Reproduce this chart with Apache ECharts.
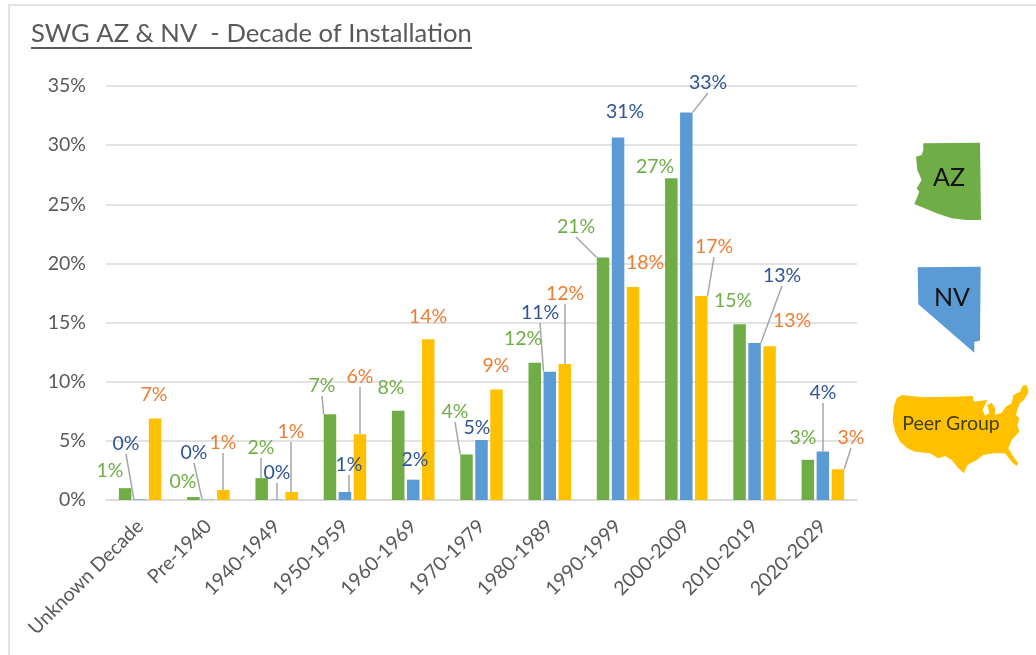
<!DOCTYPE html>
<html>
<head>
<meta charset="utf-8">
<style>
html, body { margin: 0; padding: 0; background: #fff; }
#main { width: 1036px; height: 655px; }
</style>
<script src="https://cdn.jsdelivr.net/npm/echarts@6/dist/echarts.min.js"></script>
</head>
<body>
<div id="main"></div>
<script>
var decades = ['Unknown Decade', 'Pre-1940', '1940-1949', '1950-1959', '1960-1969', '1970-1979', '1980-1989', '1990-1999', '2000-2009', '2010-2019', '2020-2029'];
var azValues = [1.0, 0.25, 1.85, 7.25, 7.55, 3.85, 11.6, 20.5, 27.2, 14.85, 3.4];
var nvValues = [0.05, 0.03, 0.03, 0.68, 1.72, 5.07, 10.85, 30.65, 32.77, 13.27, 4.1];
var peerValues = [6.9, 0.85, 0.68, 5.55, 13.6, 9.35, 11.5, 18, 17.25, 13, 2.6];
var yTicks = { min: 0, max: 35, interval: 5 };

// where each data label sits, and which ones have a leader line
var azLabelPos = [[110,471],[183,482],[261,448],[322,386],[391,388],[455,412],[523,339],[576,227],[655,167],[733,301],[803,438]];
var nvLabelPos = [[126,444],[194,453],[277,473],[349,465],[415,460],[477,428],[540,313],[625,112],[708,83],[782,276],[823,393]];
var peerLabelPos = [[154,395],[223,443],[291,432],[360,377],[428,317],[496,366],[565,294],[645,263],[714,247],[792,321],[851,438]];
var azLeaders = [0,0,1,1,0,1,0,1,0,0,0];
var nvLeaders = [1,1,1,1,0,0,1,0,1,1,1];
var peerLeaders = [0,1,1,1,0,0,1,0,1,0,1];

// outlines of the three shapes
var azShape = [[130,70],[300,68],[303,300],[260,300],[215,295],[170,280],[103,252],[108,240],[118,215],[110,205],[125,180],[112,150],[108,110],[125,105],[130,90]];
var nvShape = [[113,442],[302,440],[300,662],[283,665],[283,698],[115,553]];
var usShape = [[50,835],[65,825],[130,832],[220,830],[278,828],[282,845],[322,840],[308,870],[315,887],[328,880],[322,855],[335,848],[345,865],[345,885],[365,878],[378,860],[395,850],[400,825],[420,815],[428,797],[440,795],[446,815],[432,840],[420,850],[412,870],[408,885],[418,895],[412,915],[418,935],[395,960],[385,985],[400,1010],[415,1030],[410,1038],[395,1025],[375,1000],[340,1000],[310,1005],[290,1020],[262,1035],[252,1060],[235,1045],[215,1020],[195,1008],[175,1015],[150,1000],[105,995],[82,985],[60,965],[45,935],[38,900],[42,860]];

var fontName = 'Lato';
var myChart = echarts.init(document.getElementById('main'));

function barSeries(name, values, leaders, positions, barColor, labelColor) {
	return {
		name: name,
		type: 'bar',
		barWidth: 12.5,
		barGap: '20%',
		itemStyle: { color: barColor },
		data: values.map(function (v, i) {
			return { value: v, labelLine: { show: !!leaders[i] } };
		}),
		label: {
			show: true,
			position: 'top',
			fontFamily: fontName,
			fontSize: 19.5,
			color: labelColor,
			formatter: function (p) { return Math.round(p.value) + '%'; }
		},
		labelLine: {
			show: true,
			smooth: false,
			minTurnAngle: 180,
			lineStyle: { color: '#a6a6a6', width: 1.5 }
		},
		labelLayout: function (p) {
			var pos = positions[p.dataIndex];
			return { x: pos[0], y: pos[1], align: 'center', verticalAlign: 'middle', hideOverlap: false };
		}
	};
}

function shape(points, color) {
	return {
		type: 'polygon',
		x: 880,
		y: 120,
		scaleX: 1 / 3,
		scaleY: 1 / 3,
		shape: { points: points },
		style: { fill: color }
	};
}

function shapeText(text, x, y, size, color) {
	return {
		type: 'text',
		x: x,
		y: y,
		z: 5,
		style: { text: text, fontFamily: fontName, fontSize: size, fill: color, align: 'center', verticalAlign: 'middle' }
	};
}

var option = {
	animation: false,
	backgroundColor: '#fff',
	title: {
		text: 'SWG AZ & NV  - Decade of Installation',
		left: 31,
		top: 21,
		padding: 0,
		textStyle: { fontFamily: fontName, fontSize: 25.6, fontWeight: 'normal', color: '#595959' }
	},
	grid: { left: 106, right: 179, top: 86, bottom: 155 },
	xAxis: {
		type: 'category',
		data: decades,
		axisLine: { lineStyle: { color: '#d9d9d9', width: 1.5 } },
		axisTick: { show: false },
		axisLabel: { rotate: 45, interval: 0, margin: 23, fontFamily: fontName, fontSize: 19.5, color: '#595959' }
	},
	yAxis: {
		type: 'value',
		min: yTicks.min,
		max: yTicks.max,
		interval: yTicks.interval,
		axisLine: { show: false },
		axisTick: { show: false },
		splitLine: { lineStyle: { color: '#d9d9d9', width: 1.5 } },
		axisLabel: { formatter: '{value}%', margin: 20, fontFamily: fontName, fontSize: 19.5, color: '#595959' }
	},
	series: [
		barSeries('AZ', azValues, azLeaders, azLabelPos, '#70ad47', '#70ad47'),
		barSeries('NV', nvValues, nvLeaders, nvLabelPos, '#5b9bd5', '#2f5597'),
		barSeries('Peer Group', peerValues, peerLeaders, peerLabelPos, '#ffc000', '#ed7d31')
	],
	graphic: [
		{ type: 'polyline', shape: { points: [[9, 700], [9, 5], [1100, 5]] }, style: { stroke: '#d9d9d9', lineWidth: 1.5, fill: null } },
		{ type: 'line', shape: { x1: 31, y1: 48, x2: 472, y2: 48 }, style: { stroke: '#595959', lineWidth: 2 } },
		shape(azShape, '#70ad47'),
		shape(nvShape, '#5b9bd5'),
		shape(usShape, '#ffc000'),
		shapeText('AZ', 949, 178, 25, '#111'),
		shapeText('NV', 952, 298, 25, '#111'),
		shapeText('Peer Group', 951, 424, 19.5, '#3f3f14')
	]
};
myChart.setOption(option);
</script>
</body>
</html>
